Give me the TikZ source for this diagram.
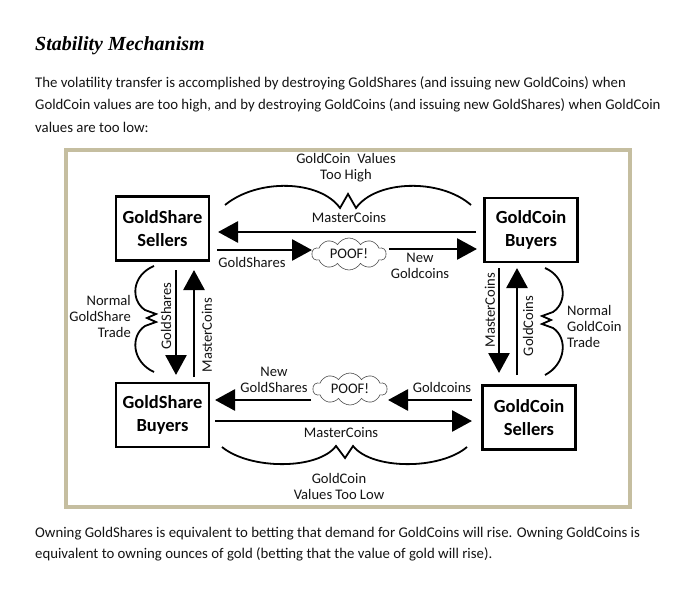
\documentclass[tikz,border=0pt]{standalone}
\usepackage{fontspec}
\setmainfont{Carlito}
\newfontfamily\titlefont{Liberation Serif}
\usetikzlibrary{arrows.meta,shapes.symbols}
\definecolor{framec}{RGB}{197,190,160}
\definecolor{txt}{RGB}{20,20,20}
\begin{document}
\begin{tikzpicture}[x=1pt,y=-1pt,
 box/.style={draw,line width=2.6pt,minimum width=93pt,minimum height=64pt,align=center,
   font=\fontsize{18.5}{23}\selectfont\bfseries,inner sep=0},
 arr/.style={line width=2.8pt,-{Triangle[length=20pt,width=21pt]}},
 lbl/.style={font=\fontsize{14.6}{16}\selectfont,inner sep=0,align=center,text=txt},
 para/.style={font=\fontsize{14.8}{16}\selectfont,anchor=base west,inner sep=0,text=txt},
 brace/.style={line width=1.8pt,line join=miter},
 poof/.style={cloud,cloud puffs=10,cloud puff arc=120,aspect=2.4,draw=black!70,line width=0.6pt,
   minimum width=74pt,minimum height=32pt,inner sep=0,font=\fontsize{14.6}{16}\selectfont,text=txt}
]
\useasboundingbox (0,0) rectangle (686,594);
\fill[white] (0,0) rectangle (686,594);

% heading and paragraphs
\node[anchor=base west,inner sep=0,font=\titlefont\fontsize{20}{24}\selectfont\bfseries\itshape] (title) at (35,51) {Stability Mechanism};
\node[para] (p1) at (35,88) {The volatility transfer is accomplished by destroying GoldShares (and issuing new GoldCoins) when};
\node[para] (p2) at (35,110) {GoldCoin values are too high, and by destroying GoldCoins (and issuing new GoldShares) when GoldCoin};
\node[para] (p3) at (35,132) {values are too low:};
\node[para] (p4) at (35,537) {Owning GoldShares is equivalent to betting that demand for GoldCoins will rise. Owning GoldCoins is};
\node[para] (p5) at (35,558) {equivalent to owning ounces of gold (betting that the value of gold will rise).};

% frame
\draw[framec,line width=3.5pt] (66,150) rectangle (630,507);

% boxes
\node[box] (gss) at (162.5,228.5) {GoldShare\\Sellers};
\node[box] (gcb) at (531,230) {GoldCoin\\Buyers};
\node[box] (gsb) at (162.5,415) {GoldShare\\Buyers};
\node[box] (gcs) at (529,417.5) {GoldCoin\\Sellers};

% clouds
\node[poof] (poof1) at (349,254) {POOF!};
\node[poof] (poof2) at (350,389) {POOF!};

% arrow end points
\coordinate (t1a) at (476,232); \coordinate (t1b) at (218,232);
\coordinate (t2a) at (217,250); \coordinate (t2b) at (312,250);
\coordinate (t3a) at (389,249); \coordinate (t3b) at (477,249);
\coordinate (b1a) at (311,400); \coordinate (b1b) at (215,400);
\coordinate (b2a) at (472,400); \coordinate (b2b) at (388,400);
\coordinate (b3a) at (215,421); \coordinate (b3b) at (472,421);
\coordinate (l1a) at (176,270); \coordinate (l1b) at (176,375);
\coordinate (l2a) at (194,377); \coordinate (l2b) at (194,270);
\coordinate (r1a) at (499,268); \coordinate (r1b) at (499,373);
\coordinate (r2a) at (517,375); \coordinate (r2b) at (517,268);

% horizontal arrows
\draw[arr] (t1a) -- (t1b);
\draw[arr] (t2a) -- (t2b);
\draw[arr] (t3a) -- (t3b);
\draw[arr] (b1a) -- (b1b);
\draw[arr] (b2a) -- (b2b);
\draw[arr] (b3a) -- (b3b);
% vertical arrows
\draw[arr] (l1a) -- (l1b);
\draw[arr] (l2a) -- (l2b);
\draw[arr] (r1a) -- (r1b);
\draw[arr] (r2a) -- (r2b);

% braces
\draw[brace] (225,205) .. controls (258,178) and (320,180) .. (340,208) -- (348,194) -- (356,208)
  .. controls (376,180) and (440,178) .. (471,205);
\draw[brace] (222,447) .. controls (250,470) and (318,470) .. (336,446) -- (345,458) -- (353,446)
  .. controls (372,470) and (440,470) .. (467,447);
\draw[brace] (154,266) .. controls (132,275) and (130,300) .. (145,310) -- (156,314) -- (147,318)
  -- (156,322) -- (145,326) .. controls (130,336) and (132,362) .. (154,372);
\draw[brace] (545,268) .. controls (566,277) and (568,302) .. (553,312) -- (542,316) -- (551,320)
  -- (542,324) -- (553,328) .. controls (568,338) and (566,364) .. (545,375);

% labels
\node[lbl] (lhigh) at (346,168) {GoldCoin\ \ Values\\Too High};
\node[lbl] (lmc1) at (349,218) {MasterCoins};
\node[lbl] (lgs1) at (252,262) {GoldShares};
\node[lbl] (lng) at (420,266) {New\\Goldcoins};
\node[lbl] (lngs) at (274,380) {New\\GoldShares};
\node[lbl] (lgc) at (442,387) {Goldcoins};
\node[lbl] (lmc2) at (341,433) {MasterCoins};
\node[lbl] (llow) at (339,486) {GoldCoin\\Values Too Low};
\node[lbl,anchor=east,align=right] (lgst) at (131,316) {Normal\\GoldShare\\Trade};
\node[lbl,anchor=west,align=left] (lgct) at (567,326) {Normal\\GoldCoin\\Trade};
\node[lbl,rotate=90] (vgs) at (166,316) {GoldShares};
\node[lbl,rotate=90] (vmc1) at (207,335) {MasterCoins};
\node[lbl,rotate=90] (vmc2) at (490,310) {MasterCoins};
\node[lbl,rotate=90] (vgc) at (528,326) {GoldCoins};
\end{tikzpicture}
\end{document}
